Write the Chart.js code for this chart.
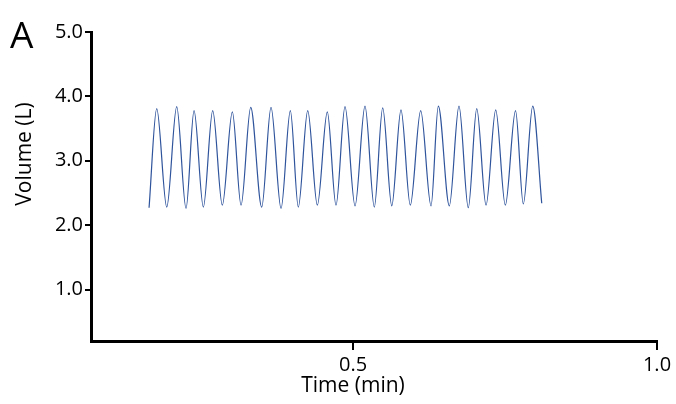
<!DOCTYPE html>
<html>
<head>
<meta charset="utf-8">
<script src="https://cdn.jsdelivr.net/npm/chart.js@4"></script>
<style>
  html, body { margin: 0; padding: 0; background: #fff; }
  #wrap { width: 676px; height: 404px; position: relative; }
</style>
</head>
<body>
<div id="wrap"><canvas id="c" width="676" height="404"></canvas></div>
<script>
// Time (min) of the start, each peak/trough and the end of the trace
const timeMin = [
  0.1645, 0.1771, 0.1936, 0.2100, 0.2253, 0.2385, 0.2538, 0.2692, 0.2850, 0.3015,
  0.3158, 0.3317, 0.3498, 0.3651, 0.3816, 0.3969, 0.4100, 0.4255, 0.4413, 0.4577,
  0.4720, 0.4868, 0.5033, 0.5197, 0.5350, 0.5488, 0.5637, 0.5789, 0.5942, 0.6113,
  0.6283, 0.6403, 0.6584, 0.6743, 0.6896, 0.7035, 0.7188, 0.7347, 0.7505, 0.7673,
  0.7801, 0.7956, 0.8104
];
// Volume (L) at those times
const volumeL = [
  2.27, 3.81, 2.28, 3.84, 2.26, 3.78, 2.28, 3.78, 2.31, 3.76,
  2.31, 3.83, 2.28, 3.83, 2.26, 3.78, 2.28, 3.78, 2.31, 3.76,
  2.31, 3.84, 2.30, 3.85, 2.28, 3.82, 2.30, 3.79, 2.31, 3.78,
  2.30, 3.85, 2.30, 3.85, 2.27, 3.81, 2.31, 3.79, 2.31, 3.78,
  2.33, 3.85, 2.34
];
const xTicks = [0.5, 1.0];
const yTicks = [1.0, 2.0, 3.0, 4.0, 5.0];
const panelLabel = 'A';
const xTitle = 'Time (min)';
const yTitle = 'Volume (L)';

const FONT = '"Open Sans", "DejaVu Sans", sans-serif';

const points = timeMin.map((t, i) => ({ x: t, y: volumeL[i] }));

const textPlugin = {
  id: 'texts',
  afterDraw(chart) {
    const ctx = chart.ctx;
    const xs = chart.scales.x;
    ctx.save();
    ctx.fillStyle = '#000';
    ctx.font = '37px ' + FONT;
    ctx.textAlign = 'left';
    ctx.textBaseline = 'alphabetic';
    ctx.fillText(panelLabel, 10, 48);

    ctx.font = '21px ' + FONT;
    ctx.textAlign = 'center';
    ctx.textBaseline = 'middle';
    ctx.fillText(xTitle, xs.getPixelForValue(0.5), 386);

    ctx.translate(25, 154);
    ctx.rotate(-Math.PI / 2);
    ctx.fillText(yTitle, 0, 0);
    ctx.restore();
  }
};

new Chart(document.getElementById('c'), {
  type: 'line',
  data: {
    datasets: [{
      data: points,
      borderColor: '#2f549c',
      borderWidth: 1.2,
      pointRadius: 0,
      fill: false,
      cubicInterpolationMode: 'monotone'
    }]
  },
  options: {
    responsive: false,
    animation: false,
    events: [],
    layout: { padding: { left: 0, right: 19, top: 32, bottom: 0 } },
    plugins: { legend: { display: false }, tooltip: { enabled: false } },
    scales: {
      x: {
        type: 'linear',
        min: 0.069,
        max: 1.0,
        afterBuildTicks(s) { s.ticks = xTicks.map(v => ({ value: v })); },
        afterFit(s) { s.height = 63; },
        border: { display: true, color: '#000', width: 3 },
        grid: { display: true, drawOnChartArea: false, drawTicks: true, tickLength: 9, color: '#000', lineWidth: 2 },
        ticks: {
          padding: 3,
          color: '#000',
          font: { family: FONT, size: 20 },
          maxRotation: 0,
          callback: v => Number(v).toFixed(1)
        }
      },
      y: {
        type: 'linear',
        min: 0.2,
        max: 5.0,
        afterBuildTicks(s) { s.ticks = yTicks.map(v => ({ value: v })); },
        afterFit(s) { s.width = 91; },
        border: { display: true, color: '#000', width: 3 },
        grid: { display: true, drawOnChartArea: false, drawTicks: true, tickLength: 6, color: '#000', lineWidth: 2 },
        ticks: {
          padding: 2,
          color: '#000',
          font: { family: FONT, size: 20 },
          callback: v => Number(v).toFixed(1)
        }
      }
    }
  },
  plugins: [textPlugin]
});
</script>
</body>
</html>
